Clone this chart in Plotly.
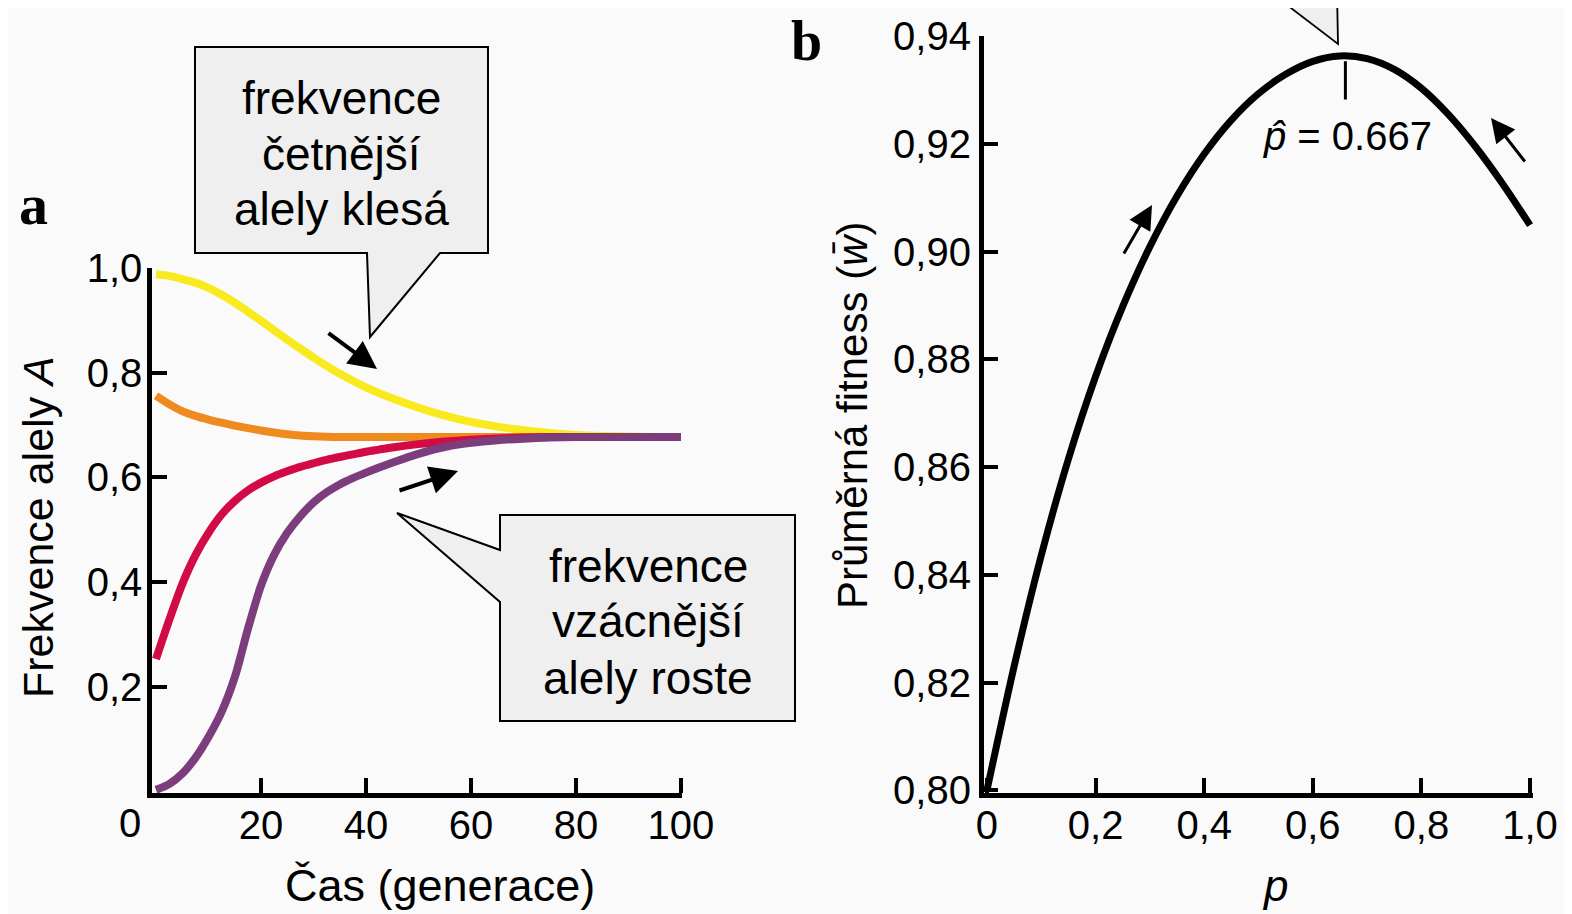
import plotly.graph_objects as go

# ---------------- data ----------------
t_gen = [0, 2.5, 5, 7.5, 10, 12.5, 15, 17.5, 20, 22.5, 25, 27.5, 30, 32.5, 35, 37.5,
         40, 42.5, 45, 50, 55, 60, 65, 70, 75, 80, 85, 90, 95, 100]
freq_yellow = [0.988, 0.985, 0.979, 0.972, 0.962, 0.949, 0.934, 0.917, 0.899, 0.881,
               0.863, 0.846, 0.829, 0.813, 0.798, 0.7845, 0.772, 0.761, 0.751, 0.733,
               0.718, 0.706, 0.697, 0.690, 0.685, 0.681, 0.679, 0.678, 0.677, 0.677]
freq_orange = [0.756, 0.740, 0.7265, 0.7175, 0.7105, 0.7045, 0.699, 0.694, 0.6895, 0.6857,
               0.6825, 0.680, 0.6785, 0.6775, 0.677, 0.677, 0.677, 0.677, 0.677, 0.677,
               0.677, 0.677, 0.677, 0.677, 0.677, 0.677, 0.677, 0.677, 0.677, 0.677]
freq_red = [0.253, 0.327, 0.396, 0.451, 0.494, 0.529, 0.555, 0.575, 0.590, 0.602,
            0.6115, 0.620, 0.627, 0.6335, 0.639, 0.644, 0.649, 0.653, 0.657, 0.6635,
            0.6685, 0.672, 0.6745, 0.676, 0.677, 0.677, 0.677, 0.677, 0.677, 0.677]
freq_purple = [0.003, 0.014, 0.034, 0.064, 0.104, 0.152, 0.218, 0.310, 0.393, 0.452,
               0.494, 0.526, 0.552, 0.5715, 0.5865, 0.5985, 0.609, 0.6188, 0.628, 0.645,
               0.658, 0.666, 0.671, 0.674, 0.676, 0.677, 0.677, 0.677, 0.677, 0.677]

p_vals = [0.0, 0.05, 0.10, 0.15, 0.20, 0.25, 0.30, 0.35, 0.40, 0.45, 0.50,
          0.55, 0.60, 0.65, 0.70, 0.75, 0.80, 0.85, 0.90, 0.95, 1.0]
w_bar = [0.800, 0.823, 0.8436, 0.8615, 0.8768, 0.8898, 0.9009, 0.9103, 0.9181, 0.9244,
         0.9293, 0.9329, 0.9353, 0.9363, 0.9358, 0.9338, 0.9303, 0.9254, 0.9194, 0.9125,
         0.9049]
p_hat = 0.66

left_x_ticks = [20, 40, 60, 80, 100]
left_x_text = ["20", "40", "60", "80", "100"]
left_y_ticks = [0.2, 0.4, 0.6, 0.8, 1.0]
left_y_text = ["0,2", "0,4", "0,6", "0,8", "1,0"]
right_x_ticks = [0, 0.2, 0.4, 0.6, 0.8, 1.0]
right_x_text = ["0", "0,2", "0,4", "0,6", "0,8", "1,0"]
right_y_ticks = [0.80, 0.82, 0.84, 0.86, 0.88, 0.90, 0.92, 0.94]
right_y_text = ["0,80", "0,82", "0,84", "0,86", "0,88", "0,90", "0,92", "0,94"]

# ---------------- layout helpers ----------------
W, H = 1572, 914
OFF = 8          # the page shows the figure 8 px in from the top-left corner
FONT = "Liberation Sans, Arial, Helvetica, sans-serif"
SERIF = "Liberation Serif, Times New Roman, serif"
BG = "#fafafa"
BOX = "#efefef"


def px(x):
    return (x - OFF) / W


def py(y):
    return 1 - (y - OFF) / H


fig = go.Figure()

colors = ["#f8ea1e", "#ee8a1e", "#d20a46", "#7c3d7c"]
for vals, col in zip([freq_yellow, freq_orange, freq_red, freq_purple], colors):
    fig.add_trace(go.Scatter(x=t_gen, y=vals, mode="lines",
                             line=dict(color=col, width=8, shape="spline", smoothing=0.8),
                             xaxis="x", yaxis="y", showlegend=False, hoverinfo="skip"))

fig.add_trace(go.Scatter(x=p_vals, y=w_bar, mode="lines",
                         line=dict(color="black", width=7, shape="spline", smoothing=0.8),
                         xaxis="x2", yaxis="y2", showlegend=False, hoverinfo="skip"))

axis_common = dict(showline=True, linecolor="black", linewidth=4.5, ticks="inside",
                   ticklen=15, tickwidth=3.5, tickcolor="black", showgrid=False,
                   zeroline=False, tickfont=dict(family=FONT, size=40, color="black"),
                   tickmode="array", fixedrange=True, automargin=False)

fig.update_layout(
    width=W, height=H, autosize=False,
    margin=dict(l=0, r=0, t=0, b=0, pad=0, autoexpand=False),
    paper_bgcolor=BG, plot_bgcolor=BG,
    xaxis=dict(domain=[px(152), px(682)], range=[-0.76, 100.2], anchor="y",
               tickvals=left_x_ticks, ticktext=left_x_text, ticklabelstandoff=-7,
               **axis_common),
    yaxis=dict(domain=[py(793), py(268)], range=[-0.003, 1.0], anchor="x",
               tickvals=left_y_ticks, ticktext=left_y_text, ticklabelstandoff=-3,
               **axis_common),
    xaxis2=dict(domain=[px(983.7), px(1533.3)], range=[-0.006, 1.006], anchor="y2",
                tickvals=right_x_ticks, ticktext=right_x_text, ticklabelstandoff=-7,
                **axis_common),
    yaxis2=dict(domain=[py(793), py(36)], range=[0.7995, 0.94], anchor="x2",
                tickvals=right_y_ticks, ticktext=right_y_text, ticklabelstandoff=0,
                **axis_common),
)

shapes = []
# speech bubble 1
b1 = [(195, 47), (488, 47), (488, 253), (440, 253), (370, 337), (367, 253), (195, 253)]
# speech bubble 2
b2 = [(500, 515), (795, 515), (795, 721), (500, 721), (500, 602), (397, 513), (500, 550)]
for poly in (b1, b2):
    path = "M " + " L ".join(f"{px(x):.5f},{py(y):.5f}" for x, y in poly) + " Z"
    shapes.append(dict(type="path", xref="paper", yref="paper", path=path,
                       fillcolor=BOX, line=dict(color="black", width=2), layer="above"))
# top bubble pointer (panel b), cut by the top edge
tri = [(1270, -8), (1337, -8), (1338, 44)]
path = "M " + " L ".join(f"{px(x):.5f},{py(y):.5f}" for x, y in tri) + " Z"
shapes.append(dict(type="path", xref="paper", yref="paper", path=path,
                   fillcolor=BOX, line=dict(color="black", width=1.8), layer="above"))
# peak marker
shapes.append(dict(type="line", xref="x2", yref="y2", x0=p_hat, x1=p_hat,
                   y0=0.9353, y1=0.9282, line=dict(color="black", width=3)))
fig.update_layout(shapes=shapes)

ann = []


def text(x, y, s, size, family=FONT, angle=0, xanchor="center", yanchor="middle"):
    ann.append(dict(x=px(x), y=py(y), xref="paper", yref="paper", text=s,
                    showarrow=False, textangle=angle, xanchor=xanchor, yanchor=yanchor,
                    font=dict(family=family, size=size, color="black")))


def arrow(tail, head, width=4, size=1.4):
    ann.append(dict(x=px(head[0]), y=py(head[1]), xref="paper", yref="paper",
                    ax=tail[0] - head[0], ay=tail[1] - head[1], axref="pixel", ayref="pixel",
                    text="", showarrow=True, arrowhead=2, arrowsize=size,
                    arrowwidth=width, arrowcolor="black", standoff=0))


# bubble texts
for yy, s in zip([98, 154, 209], ["frekvence", "četnější", "alely klesá"]):
    text(341, yy, s, 46)
for yy, s in zip([566, 621, 678], ["frekvence", "vzácnější", "alely roste"]):
    text(648, yy, s, 46)

# panel letters
text(33, 205, "<b>a</b>", 58, family=SERIF)
text(806, OFF, "<b>b</b>", 56, family=SERIF, yanchor="top")

# axis titles
text(38, 527, "Frekvence alely <i>A</i>", 43, angle=-90)
text(440, 885, "Čas (generace)", 45)
text(853, 415, "Průměrná fitness (<i>w\u0304</i>)", 42, angle=-90)
text(1275, 885, "<i>p</i>", 44)
text(130, 823, "0", 40)

# p-hat label
text(1347, 136, "<i>p\u0302</i> = 0.667", 40)

# arrows
arrow((327, 332), (377, 369), width=4, size=1.4)
arrow((398, 491), (458, 471), width=4, size=1.4)
arrow((1123, 255), (1152, 205), width=3, size=1.6)
arrow((1526, 163), (1491, 118), width=3, size=1.6)

fig.update_layout(annotations=ann)

fig.write_html("out.html")
